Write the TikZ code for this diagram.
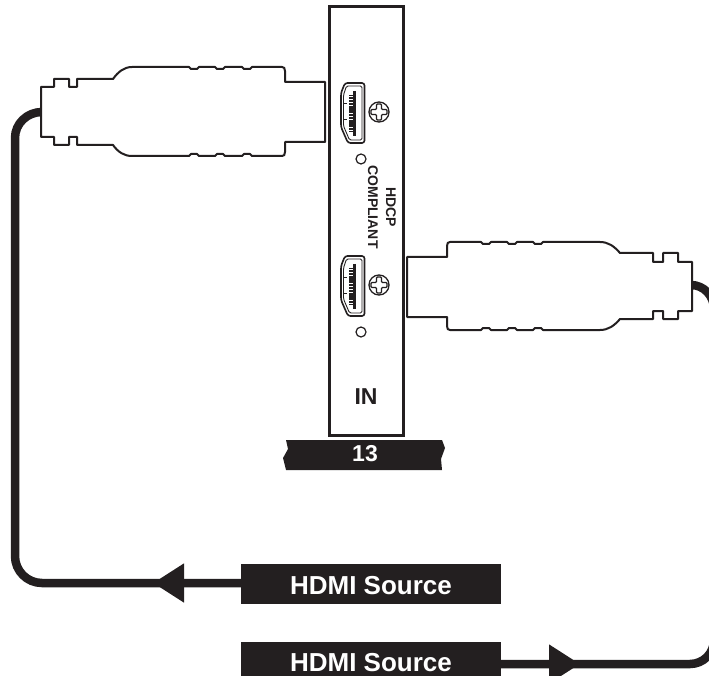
\documentclass[tikz,border=0pt]{standalone}
\usepackage{fontspec}
\setmainfont{Liberation Sans}
\usetikzlibrary{arrows.meta, positioning}
\definecolor{inkblack}{HTML}{231F20}
\tikzset{
  outline/.style={draw=inkblack, line width=2pt, line join=round, fill=white},
  cable/.style={draw=inkblack, line width=8.5pt},
  cabletip/.style={cable, -{Triangle[length=31pt, width=37pt, inkblack]}},
  sourcebox/.style={fill=inkblack, text=white, font=\bfseries\fontsize{26}{26}\selectfont, minimum width=260pt, minimum height=40pt, inner sep=0pt, text height=21pt, text depth=0pt},
  panellabel/.style={text=inkblack, font=\bfseries\fontsize{14}{18}\selectfont, align=center, rotate=-90, inner sep=0pt},
  hdmiport/.pic={
    \draw [inkblack, line width=1.6pt, rounded corners=2.5pt] (-21,-30) -- (-1.5,-30) -- (-1.5,30) -- (-18,30) -- (-25,14) -- (-25,-20) -- cycle;
    \draw [inkblack, line width=0.9pt, rounded corners=1.5pt] (-19.5,-27) -- (-4,-27) -- (-4,27) -- (-16.5,27) -- (-22.5,13) -- (-22.5,-18) -- cycle;
    \draw [inkblack, line width=7pt, dash pattern=on 1.2pt off 0.35pt] (-14,-18) -- (-14,19);
    \draw [inkblack, line width=3pt] (-12,-22) -- (-12,23);
    \draw [inkblack, line width=1pt] (-22.5,-9) -- (-19,-9) (-22.5,7) -- (-19,7);
  },
  screwhead/.pic={
    \draw [inkblack, line width=1.3pt] (0,0) circle (10);
    \draw [inkblack, line width=1.2pt, rounded corners=1pt] (-2.5,-8) -- (2.5,-8) -- (2.5,-2.5) -- (8,-2.5) -- (8,2.5) -- (2.5,2.5) -- (2.5,8) -- (-2.5,8) -- (-2.5,2.5) -- (-8,2.5) -- (-8,-2.5) -- (-2.5,-2.5) -- cycle;
  }
}
\begin{document}
\begin{tikzpicture}[x=1pt, y=-1pt]
  \useasboundingbox (0,0) rectangle (709,676);
  \clip (0,0) rectangle (709,676);

  % Input panel
  \node [draw=inkblack, line width=3pt, fill=white, minimum width=74pt, minimum height=428pt, inner sep=0pt] (panel) at (366,221) {};
  \node [text=inkblack, font=\bfseries\fontsize{23}{23}\selectfont, inner sep=0pt] (inlabel) at (366,397) {IN};
  \node [panellabel] (hdcp) at (382,207) {HDCP\\COMPLIANT};

  % Ports, screws and small holes
  \foreach \name/\py in {upper/113, lower/286} {
    \pic at (366,\py) {hdmiport};
    \pic at (379,\py-1) {screwhead};
    \draw [inkblack, line width=1.2pt] (361,\py+46) circle (5);
  }

  % Number tag
  \fill [inkblack] (286,440) -- (442,440) -- (445,448) -- (441,459) -- (442,470) -- (286,470) -- (283,458) -- (288,449) -- cycle;
  \node [text=white, font=\bfseries\fontsize{23}{23}\selectfont, inner sep=0pt] (tag) at (365,454) {13};

  % Source boxes
  \node [sourcebox] (sourceone) at (371,584) {HDMI Source};
  \node [sourcebox, minimum height=38pt] (sourcetwo) at (371,661) {HDMI Source};

  % Cable ends
  \coordinate (leftend) at (42,112);
  \coordinate (rightend) at (691,285);
  \coordinate (tipone) at (153,583);
  \coordinate (tiptwo) at (580,664);

  % Cables
  \draw [cable] (sourceone.west |- tipone) -- (42,583) arc (90:180:27) -- (15,138) arc (180:270:27 and 26) -- (leftend);
  \draw [cabletip] (sourceone.west |- tipone) -- (tipone);
  \draw [cable] (sourcetwo.east |- tiptwo) -- (690,664) arc (90:0:24) -- (714,309) arc (0:-90:23 and 24) -- (rightend);
  \draw [cabletip] (sourcetwo.east |- tiptwo) -- (tiptwo);

  % Left plug
  \draw [outline] (325,82) -- (285,82) -- (285,71) .. controls (285,68) and (284,67) .. (282,67)
    -- (252,67) -- (250,69) -- (244,69) -- (242,67) -- (225,67) -- (223,69) -- (217,69) -- (215,67) -- (199,67) -- (197,69) -- (191,69) -- (189,67)
    -- (132,67) .. controls (124,67) and (118,72) .. (113,79) -- (77,79) -- (77,87) -- (69,87) -- (69,79) -- (54,79) -- (54,87) -- (41,87)
    -- (41,137) -- (54,137) -- (54,145) -- (69,145) -- (69,137) -- (77,137) -- (77,145) -- (113,145)
    .. controls (118,152) and (124,156) .. (132,156) -- (189,156) -- (191,154) -- (197,154) -- (199,156) -- (215,156) -- (217,154) -- (223,154) -- (225,156) -- (242,156) -- (244,154) -- (250,154) -- (252,156)
    -- (282,156) .. controls (284,156) and (285,155) .. (285,152) -- (285,142) -- (325,142) -- cycle;

  % Right plug
  \draw [outline] (407,257) -- (447,257) -- (447,246) .. controls (447,243) and (448,242) .. (450,242)
    -- (481,242) -- (483,244) -- (489,244) -- (491,242) -- (507,242) -- (509,244) -- (515,244) -- (517,242) -- (533,242) -- (535,244) -- (541,244) -- (543,242)
    -- (600,242) .. controls (608,242) and (614,246) .. (620,253) -- (653,253) -- (653,262) -- (663,262) -- (663,253) -- (678,253) -- (678,262) -- (692,262)
    -- (692,311) -- (678,311) -- (678,319) -- (663,319) -- (663,311) -- (653,311) -- (653,319) -- (620,319)
    .. controls (614,326) and (608,330) .. (600,330) -- (543,330) -- (541,328) -- (535,328) -- (533,330) -- (517,330) -- (515,328) -- (509,328) -- (507,330) -- (491,330) -- (489,328) -- (483,328) -- (481,330)
    -- (450,330) .. controls (448,330) and (447,329) .. (447,326) -- (447,317) -- (407,317) -- cycle;
\end{tikzpicture}
\end{document}
